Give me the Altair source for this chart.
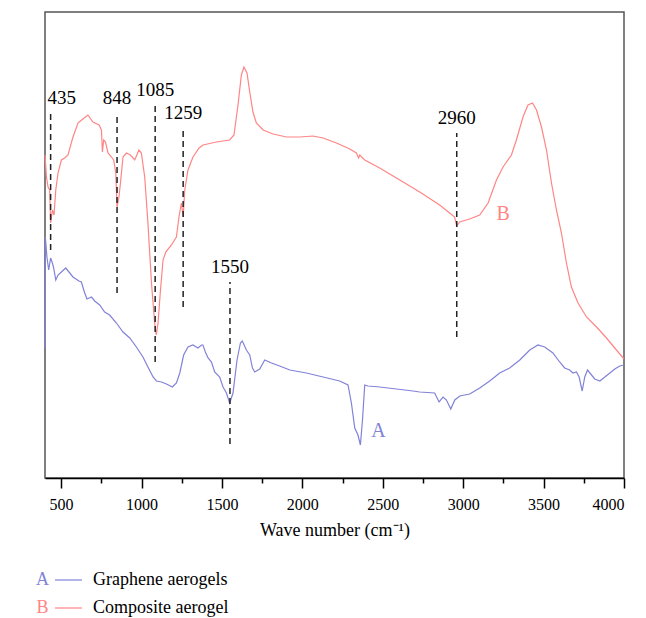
import altair as alt
import pandas as pd

# FTIR spectra: wavenumber (cm-1) against relative transmittance (arbitrary units)
wn_a = [400, 402, 412, 423, 435, 446, 454, 467, 481, 502, 529, 549, 574, 611, 626,
        647, 661, 689, 709, 740, 771, 802, 844, 885, 927, 968, 1009, 1040, 1072, 1093,
        1124, 1155, 1192, 1217, 1238, 1262, 1289, 1320, 1351, 1373, 1382, 1397, 1414,
        1435, 1455, 1486, 1507, 1528, 1548, 1569, 1594, 1615, 1627, 1652, 1673, 1690,
        1704, 1735, 1766, 1808, 1859, 1922, 2025, 2129, 2232, 2284, 2305, 2326, 2346,
        2361, 2374, 2388, 2408, 2481, 2585, 2688, 2730, 2823, 2850, 2875, 2896, 2923,
        2948, 2979, 3041, 3103, 3165, 3227, 3289, 3352, 3414, 3465, 3507, 3558, 3600,
        3631, 3662, 3683, 3704, 3721, 3740, 3756, 3773, 3798, 3818, 3850, 3881, 3912,
        3943, 3974, 4000]
t_a = [130, 241, 221, 208, 220, 215, 210, 198, 203, 206, 210, 206, 201, 197, 196,
       185, 179, 181, 177, 173, 166, 163, 155, 146, 140, 131, 121, 111, 101, 97,
       96, 94, 91, 95, 105, 123, 131, 133, 130, 133, 133, 126, 120,
       116, 106, 101, 91, 85, 75, 85, 118, 135, 137, 128, 123, 110,
       106, 109, 118, 115, 112, 108, 105, 101, 97, 93, 75, 50, 43,
       33, 58, 93, 92, 91, 89, 87, 86, 85, 76, 81, 78, 69,
       78, 82, 84, 90, 97, 105, 110, 118, 128, 133, 131, 125, 116,
       110, 108, 105, 106, 101, 87, 101, 108, 103, 99, 97, 101, 105,
       109, 112, 113]

wn_b = [400, 409, 419, 429, 435, 446, 456, 467, 481, 502, 522, 543, 574, 605, 636,
        667, 698, 736, 751, 757, 765, 776, 792, 813, 827, 840, 848, 860, 871, 885,
        906, 931, 958, 984, 999, 1020, 1040, 1062, 1082, 1092, 1103, 1118, 1134, 1151,
        1186, 1217, 1233, 1248, 1259, 1269, 1289, 1320, 1358, 1382, 1466, 1548, 1575,
        1600, 1621, 1637, 1656, 1673, 1693, 1714, 1756, 1818, 1901, 1984, 2066, 2129,
        2212, 2295, 2336, 2350, 2357, 2388, 2481, 2606, 2730, 2854, 2916, 2947, 2960,
        2978, 3040, 3103, 3155, 3207, 3248, 3300, 3331, 3372, 3403, 3431, 3456, 3487,
        3518, 3549, 3580, 3611, 3642, 3673, 3714, 3767, 3829, 3891, 3953, 4000]
t_b = [323, 301, 291, 288, 255, 268, 263, 288, 305, 318, 320, 323, 341, 355, 359,
       363, 356, 353, 348, 326, 338, 336, 325, 321, 318, 305, 271, 281, 298, 321,
       325, 323, 318, 328, 325, 301, 255, 195, 155, 143, 155, 188, 218, 226,
       233, 241, 261, 275, 261, 288, 308, 321, 330, 333, 336, 338, 343,
       373, 403, 411, 405, 386, 366, 355, 348, 344, 341, 341, 342, 340,
       335, 329, 325, 320, 323, 318, 310, 298, 286, 273, 265, 261, 252,
       256, 259, 263, 275, 298, 311, 323, 338, 361, 373, 375, 368, 351,
       328, 295, 268, 245, 215, 191, 175, 161, 151, 140, 128, 119]

series_keys = ["A", "B"]
series_names = ["Graphene aerogels", "Composite aerogel"]
series_colors = ["#8282d8", "#ff8585"]

# Marked absorption bands with the extent of their dashed guide lines
band_wn = [435, 848, 1085, 1259, 1550, 2960]
band_top = [365, 365, 373, 350, 196, 345]
band_bottom = [228, 185, 116, 171, 34, 141]

# In-plot curve tags
tag_keys = ["A", "B"]
tag_wn = [2474, 3249]
tag_t = [41, 258]

FONT = "Liberation Serif"

spectra = pd.concat([
    pd.DataFrame({"wn": wn_a, "t": t_a, "series": "A"}),
    pd.DataFrame({"wn": wn_b, "t": t_b, "series": "B"}),
], ignore_index=True)
bands = pd.DataFrame({"wn": band_wn, "top": band_top, "bottom": band_bottom,
                      "label": [str(v) for v in band_wn]})
tags = pd.DataFrame({"series": tag_keys, "wn": tag_wn, "t": tag_t})

xs = alt.Scale(domain=[400, 4000], nice=False, zero=False)
ys = alt.Scale(domain=[0, 466], nice=False, zero=False)
cs = alt.Scale(domain=series_keys, range=series_colors)

major_axis = alt.Axis(
    values=list(range(500, 4001, 500)), orient="bottom", title="Wave number (cm⁻¹)",
    format="d", grid=False, domainColor="black", domainWidth=1.5, tickColor="black",
    tickWidth=1.5, tickSize=10, labelFontSize=16, labelColor="black", labelPadding=8,
    labelFont=FONT, titleFont=FONT, titleFontSize=18, titleFontWeight="normal",
    titleColor="black", titlePadding=9,
)
minor_axis = alt.Axis(
    values=list(range(750, 4000, 500)), orient="bottom", title="", labels=False,
    grid=False, domain=False, tickColor="black", tickWidth=1.5, tickSize=5,
)
y_axis = alt.Axis(
    title="Transmittancy (%)", ticks=False, labels=False, grid=False,
    domainColor="black", domainWidth=1.5, titleFont=FONT, titleFontSize=20,
    titleFontWeight="normal", titleColor="black", titlePadding=10,
)

lines = alt.Chart(spectra).mark_line(strokeWidth=1.2).encode(
    x=alt.X("wn:Q", scale=xs, axis=major_axis),
    y=alt.Y("t:Q", scale=ys, axis=y_axis),
    color=alt.Color("series:N", scale=cs, legend=None),
)

guides = alt.Chart(bands).mark_rule(color="#222222", strokeWidth=1.5, strokeDash=[6, 4]).encode(
    x=alt.X("wn:Q", scale=xs, axis=minor_axis),
    y=alt.Y("bottom:Q", scale=ys, axis=None),
    y2="top:Q",
)

band_text_main = alt.Chart(bands).transform_filter(alt.datum.wn > 500).mark_text(
    font=FONT, fontSize=19, color="black", baseline="bottom", dy=-5
).encode(
    x=alt.X("wn:Q", scale=xs, axis=None),
    y=alt.Y("top:Q", scale=ys, axis=None),
    text="label:N",
)
band_text_first = alt.Chart(bands).transform_filter(alt.datum.wn < 500).mark_text(
    font=FONT, fontSize=19, color="black", baseline="bottom", dy=-5, dx=11
).encode(
    x=alt.X("wn:Q", scale=xs, axis=None),
    y=alt.Y("top:Q", scale=ys, axis=None),
    text="label:N",
)

tag_text = alt.Chart(tags).mark_text(font=FONT, fontSize=20, baseline="alphabetic").encode(
    x=alt.X("wn:Q", scale=xs, axis=None),
    y=alt.Y("t:Q", scale=ys, axis=None),
    text="series:N",
    color=alt.Color("series:N", scale=cs, legend=None),
)

# Legend rows below the axis title
legend_layers = []
for i, (key, name, col) in enumerate(zip(series_keys, series_names, series_colors)):
    row = pd.DataFrame({"key": [key], "name": [name]})
    yc = 568 + 28 * i
    legend_layers.append(alt.Chart(row).mark_text(
        font=FONT, fontSize=18, color=col, align="center", baseline="middle"
    ).encode(x=alt.value(-2.5), y=alt.value(yc), text="key:N"))
    legend_layers.append(alt.Chart(row).mark_rule(color=col, strokeWidth=1.2).encode(
        x=alt.value(10), x2=alt.value(37), y=alt.value(yc)))
    legend_layers.append(alt.Chart(row).mark_text(
        font=FONT, fontSize=18, color="black", align="left", baseline="middle"
    ).encode(x=alt.value(48), y=alt.value(yc), text="name:N"))

chart = alt.layer(
    lines, guides, band_text_main, band_text_first, tag_text, *legend_layers
).resolve_axis(x="independent").properties(
    width=579, height=466,
    autosize=alt.AutoSizeParams(type="none"),
    padding={"left": 45, "top": 12, "right": 22, "bottom": 140},
).configure(
    font=FONT, background="white"
).configure_view(
    stroke="#555555", strokeWidth=1.5
)

chart.save("out.html", embed_options={"renderer": "svg", "actions": False})
